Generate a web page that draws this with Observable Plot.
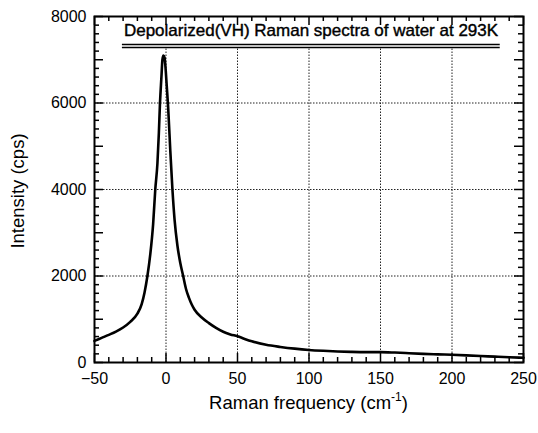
<!DOCTYPE html>
<html><head><meta charset="utf-8">
<script src="https://cdn.jsdelivr.net/npm/d3@7"></script>
<script src="https://cdn.jsdelivr.net/npm/@observablehq/plot@0.6"></script>
<style>
body{margin:0;background:#fff}
svg{font-family:"Liberation Sans",Arial,Helvetica,sans-serif}
</style>
</head><body><div id="chart"></div>
<script>
// Raman frequency (cm^-1) and intensity (cps)
const freq = [-50,-45,-40,-35,-30,-25,-20,-17,-15,-13,-11,-9,-7.5,-6,-5,-4.2,-3.2,-2.5,-1.8,-1,-0.3,0.5,1.5,3,4.5,6,8,10,12,14,16,18,20,25,30,35,40,45,50,55,60,70,80,90,100,110,120,130,140,150,160,170,180,190,200,210,220,230,240,250];
const intensity = [500,570,640,715,810,940,1130,1350,1620,2000,2500,3200,4000,4600,5300,6000,6600,7000,7100,7050,6800,6400,5900,4900,4000,3300,2700,2300,2000,1700,1500,1340,1220,1040,910,800,710,650,605,545,490,410,360,320,290,270,255,245,240,240,230,215,200,188,178,165,150,135,120,110];

const xTickValues = [-50,0,50,100,150,200,250];
const yTickValues = [0,2000,4000,6000,8000];
const xGridValues = [0,50,100,150,200];
const yGridValues = [2000,4000,6000];
const xMinorTicks = [-50,-40,-30,-20,-10,0,10,20,30,40,50,60,70,80,90,100,110,120,130,140,150,160,170,180,190,200,210,220,230,240,250];
const yMinorTicks = d3.range(0, 8001, 200);

const titleText = "Depolarized(VH) Raman spectra of water at 293K";
const xLabelMain = "Raman frequency (cm";
const xLabelSup = "-1";
const xLabelEnd = ")";
const yLabelText = "Intensity (cps)";

const spectrum = freq.map((f, i) => ({f, v: intensity[i]}));

const W = 538, H = 433;
const mL = 94, mR = 15, mT = 16, mB = 71;
const pxPerY = (H - mT - mB) / 8000;
const pxPerX = (W - mL - mR) / 300;
const xMajor = d => d % 50 === 0;
const yMajor = d => d % 1000 === 0;
const tLenY = d => (xMajor(d) ? 9 : 5) / pxPerY;
const tLenX = d => (yMajor(d) ? 9 : 5) / pxPerX;
// vertical grid lines stop just below the title's underline
const gridTop = 8000 - (mT + 14 + 17 - mT) / pxPerY;

const chart = Plot.plot({
  width: W, height: H,
  marginLeft: mL, marginRight: mR, marginTop: mT, marginBottom: mB,
  style: {fontFamily: '"Liberation Sans",Arial,Helvetica,sans-serif', background: "#fff", color: "#000"},
  x: {domain: [-50, 250], label: null},
  y: {domain: [0, 8000], label: null},
  marks: [
    Plot.ruleX(xGridValues, {x: d => d, y1: 0, y2: gridTop, stroke: "#222", strokeWidth: 1, strokeDasharray: "1.5,1.5"}),
    Plot.ruleY(yGridValues, {y: d => d, stroke: "#222", strokeWidth: 1, strokeDasharray: "1.5,1.5"}),
    Plot.ruleX(xMinorTicks, {x: d => d, y1: 0, y2: d => tLenY(d), stroke: "#000", strokeWidth: 1.5}),
    Plot.ruleX(xMinorTicks, {x: d => d, y1: 8000, y2: d => 8000 - tLenY(d), stroke: "#000", strokeWidth: 1.5}),
    Plot.ruleY(yMinorTicks, {y: d => d, x1: -50, x2: d => -50 + tLenX(d), stroke: "#000", strokeWidth: 1.5}),
    Plot.ruleY(yMinorTicks, {y: d => d, x1: 250, x2: d => 250 - tLenX(d), stroke: "#000", strokeWidth: 1.5}),
    Plot.line(spectrum, {x: "f", y: "v", stroke: "#000", strokeWidth: 2.6, curve: "monotone-x"}),
    Plot.frame({stroke: "#000", strokeWidth: 2}),
    Plot.axisX({ticks: xTickValues, tickSize: 0, tickPadding: 10, fontSize: 16, tickFormat: d3.format("d")}),
    Plot.axisY({ticks: yTickValues, tickSize: 0, tickPadding: 8, fontSize: 16, tickFormat: d3.format("d")}),
    Plot.text([titleText], {text: d => d, frameAnchor: "top", lineAnchor: "middle", dx: 2, dy: 14, fontSize: 17, fill: "#000", stroke: "#000", strokeWidth: 0.4, className: "chart-title"})
  ]
});

document.getElementById("chart").appendChild(chart);

const svg = d3.select(chart);
// double underline beneath the title
const tnode = chart.querySelector(".chart-title text");
if (tnode) {
  const r = tnode.getBoundingClientRect();
  const s = chart.getBoundingClientRect();
  const x0 = r.left - s.left, x1 = r.right - s.left;
  const yBase = mT + 14 + 14.5;
  [yBase, yBase + 3].forEach(y => {
    svg.append("line").attr("x1", x0 - 2).attr("x2", x1 + 1)
      .attr("y1", y).attr("y2", y).attr("stroke", "#000").attr("stroke-width", 1.6);
  });
}
// axis titles
const xl = svg.append("text").attr("x", (mL + W - mR) / 2).attr("y", 409)
  .attr("text-anchor", "middle").attr("font-size", 18.5).attr("fill", "#000");
xl.append("tspan").text(xLabelMain);
xl.append("tspan").attr("dy", -8).attr("font-size", 12).text(xLabelSup);
xl.append("tspan").attr("dy", 8).text(xLabelEnd);

svg.append("text").attr("transform", `translate(24,${(mT + H - mB) / 2 + 2}) rotate(-90)`)
  .attr("text-anchor", "middle").attr("font-size", 18.5).attr("fill", "#000").text(yLabelText);
</script>
</body></html>
